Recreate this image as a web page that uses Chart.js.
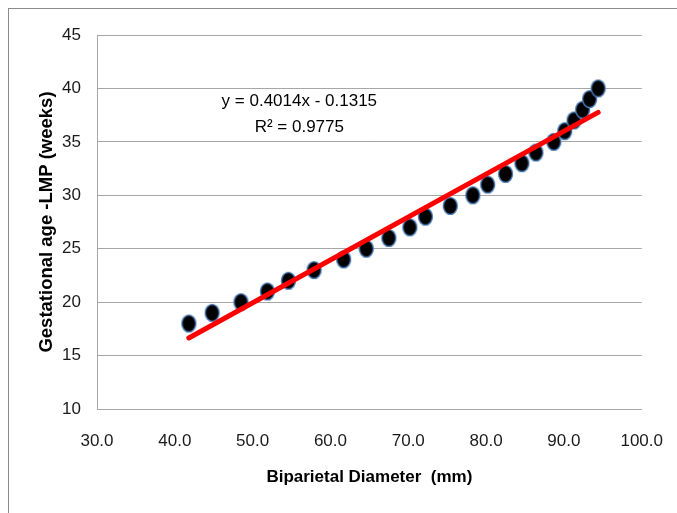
<!DOCTYPE html>
<html>
<head>
<meta charset="utf-8">
<script src="https://cdn.jsdelivr.net/npm/chart.js@4.4.0/dist/chart.umd.min.js"></script>
<style>
  html, body { margin: 0; padding: 0; background: #fff; }
  #wrap { position: relative; width: 677px; height: 513px; }
</style>
</head>
<body>
<div id="wrap"><canvas id="myChart" width="677" height="513"></canvas></div>
<script>
// data
const bpd = [41.8, 44.8, 48.5, 51.9, 54.6, 57.9, 61.7, 64.6, 67.5, 70.2, 72.2, 75.4, 78.3, 80.2, 82.5, 84.6, 86.4, 88.7, 90.1, 91.3, 92.4, 93.3, 94.4];
const gaWeeks = [18, 19, 20, 21, 22, 23, 24, 25, 26, 27, 28, 29, 30, 31, 32, 33, 34, 35, 36, 37, 38, 39, 40];
const slope = 0.4014;
const intercept = -0.1315;
const eqLines = ['y = 0.4014x - 0.1315', 'R\u00B2 = 0.9775'];
const xTicks = [30, 40, 50, 60, 70, 80, 90, 100];
const yTicks = [10, 15, 20, 25, 30, 35, 40, 45];

const points = bpd.map((x, i) => ({ x: x, y: gaWeeks[i] }));
const xMin = Math.min(...bpd);
const xMax = Math.max(...bpd);
const trend = [
    { x: xMin, y: slope * xMin + intercept },
    { x: xMax, y: slope * xMax + intercept }
];

// oval marker like the excel one
function makeMarker() {
    const c = document.createElement('canvas');
    c.width = 17;
    c.height = 20;
    const g = c.getContext('2d');
    g.beginPath();
    g.ellipse(8.5, 10, 7, 8.4, 0, 0, Math.PI * 2);
    g.fillStyle = '#000000';
    g.fill();
    g.lineWidth = 1.4;
    g.strokeStyle = '#4f81bd';
    g.stroke();
    return c;
}

const tickFont = { family: "'Liberation Sans', Arial, sans-serif", size: 17 };
const xTitleFont = { family: "'Liberation Sans', Arial, sans-serif", size: 17, weight: 'bold' };
const yTitleFont = { family: "'Liberation Sans', Arial, sans-serif", size: 18.5, weight: 'bold' };

const framePlugin = {
    id: 'frame',
    beforeDraw(chart) {
        const c = chart.ctx;
        c.save();
        c.fillStyle = '#ffffff';
        c.fillRect(0, 0, chart.width, chart.height);
        c.strokeStyle = '#8c8c8c';
        c.lineWidth = 1;
        c.strokeRect(8.5, 8.5, 800, 800);
        c.restore();
    }
};

const equationPlugin = {
    id: 'equation',
    afterDatasetsDraw(chart) {
        const c = chart.ctx;
        const xs = chart.scales.x;
        const ys = chart.scales.y;
        c.save();
        c.font = "17px 'Liberation Sans', Arial, sans-serif";
        c.fillStyle = '#000000';
        c.textAlign = 'center';
        c.textBaseline = 'middle';
        c.fillText(eqLines[0], xs.getPixelForValue(56), ys.getPixelForValue(38.8));
        c.fillText(eqLines[1], xs.getPixelForValue(56), ys.getPixelForValue(36.4));
        c.restore();
    }
};

const ctx = document.getElementById('myChart');

new Chart(ctx, {
    type: 'scatter',
    data: {
        datasets: [{
            label: 'Trend',
            data: trend,
            showLine: true,
            borderColor: '#ff0000',
            borderWidth: 5,
            borderCapStyle: 'round',
            pointRadius: 0,
            order: 0
        }, {
            label: 'GA',
            data: points,
            pointStyle: makeMarker(),
            pointRadius: 7,
            order: 1
        }]
    },
    options: {
        responsive: false,
        animation: false,
        layout: {
            padding: { left: 0, top: 35, right: 35, bottom: 0 }
        },
        scales: {
            x: {
                type: 'linear',
                min: 30,
                max: 100,
                afterBuildTicks: (scale) => { scale.ticks = xTicks.map(v => ({ value: v })); },
                afterFit: (scale) => { scale.height = 104; },
                grid: { display: false },
                border: { display: true, color: '#a6a6a6', width: 1 },
                ticks: {
                    padding: 14,
                    color: '#1a1a1a',
                    font: tickFont,
                    maxRotation: 0,
                    callback: (v) => v.toFixed(1)
                },
                title: {
                    display: true,
                    text: 'Biparietal Diameter  (mm)',
                    color: '#000000',
                    font: xTitleFont,
                    padding: { top: 0, bottom: 25 }
                }
            },
            y: {
                min: 10,
                max: 45,
                afterBuildTicks: (scale) => { scale.ticks = yTicks.map(v => ({ value: v })); },
                afterFit: (scale) => { scale.width = 97; },
                grid: { color: '#a6a6a6', lineWidth: 1, drawTicks: false },
                border: { display: true, color: '#a6a6a6', width: 1 },
                ticks: {
                    padding: 16,
                    color: '#1a1a1a',
                    font: tickFont
                },
                title: {
                    display: true,
                    text: 'Gestational age -LMP (weeks)',
                    color: '#000000',
                    font: yTitleFont,
                    padding: { top: 36, bottom: 0 }
                }
            }
        },
        plugins: {
            legend: { display: false },
            tooltip: { enabled: false }
        }
    },
    plugins: [framePlugin, equationPlugin]
});
</script>
</body>
</html>
